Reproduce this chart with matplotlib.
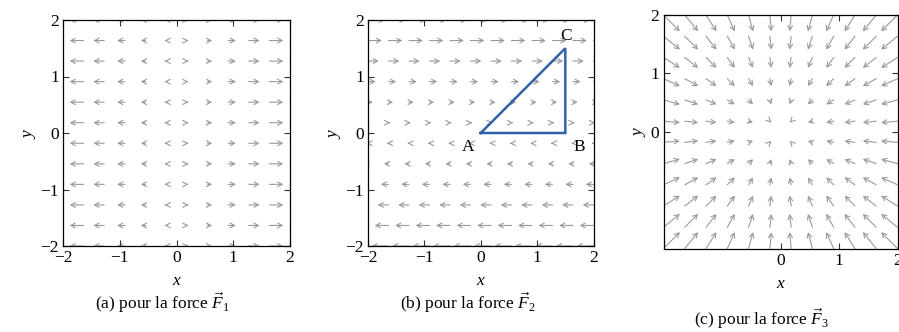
import numpy as np
import matplotlib
matplotlib.use("Agg")
import matplotlib.pyplot as plt
from matplotlib.patches import FancyArrowPatch

plt.rcParams["font.family"] = ["Liberation Serif", "DejaVu Serif"]
plt.rcParams["mathtext.fontset"] = "custom"
plt.rcParams["mathtext.rm"] = "Liberation Serif"
plt.rcParams["mathtext.it"] = "Liberation Serif:italic"
plt.rcParams["axes.unicode_minus"] = True

# Sampling grid for the force fields (12 x 12 points on [-2, 2])
grid = np.linspace(-2, 2, 12)

# Field definitions and drawing scale for each panel
def force_1(x, y):
    return x, 0 * y

def force_2(x, y):
    return y, 0 * x

def force_3(x, y):
    return -x, -y

scale_1 = 0.15
scale_2 = 0.15
scale_3 = 0.14

# Triangle path A -> B -> C -> A in panel (b)
tri_names = ["A", "B", "C"]
tri_x = [0.0, 1.5, 1.5]
tri_y = [0.0, 0.0, 1.5]

captions = [r"(a) pour la force $\vec{F}_1$",
            r"(b) pour la force $\vec{F}_2$",
            r"(c) pour la force $\vec{F}_3$"]

full_ticks = [-2, -1, 0, 1, 2]
pos_ticks = [0, 1, 2]

W, H = 899, 332
fig = plt.figure(figsize=(W / 100, H / 100), dpi=100)


def px_axes(left, top, right, bottom):
    return fig.add_axes([left / W, 1 - bottom / H, (right - left) / W, (bottom - top) / H])


ARROW_COLOR = "#9a9a9a"


def draw_field(ax, func, k):
    X, Y = np.meshgrid(grid, grid)
    U, V = func(X, Y)
    for x0, y0, u, v in zip(X.ravel(), Y.ravel(), U.ravel(), V.ravel()):
        arr = FancyArrowPatch((x0, y0), (x0 + k * u, y0 + k * v),
                              arrowstyle="->,head_length=0.32,head_width=0.17",
                              mutation_scale=10, shrinkA=0, shrinkB=0,
                              lw=0.8, color=ARROW_COLOR, zorder=1)
        ax.add_patch(arr)


def style_axes(ax, ticks):
    ax.set_xlim(-2, 2)
    ax.set_ylim(-2, 2)
    ax.set_xticks(ticks)
    ax.set_yticks(ticks)
    ax.tick_params(direction="in", length=4, width=0.8, top=True, right=True,
                   labelsize=12.5, pad=3, color="#333333")
    for s in ax.spines.values():
        s.set_linewidth(0.9)
        s.set_zorder(5)
    ax.set_xlabel(r"$x$", fontsize=12.5, labelpad=5)
    ax.set_ylabel(r"$y$", fontsize=12.5, labelpad=2)


ax1 = px_axes(63, 20, 290, 246)
ax2 = px_axes(368, 20, 593.5, 246)
ax3 = px_axes(663.5, 15, 897.5, 248.5)

draw_field(ax1, force_1, scale_1)
draw_field(ax2, force_2, scale_2)
draw_field(ax3, force_3, scale_3)

style_axes(ax1, full_ticks)
style_axes(ax2, full_ticks)
style_axes(ax3, pos_ticks)

# Triangle ABC
ax2.plot(tri_x + tri_x[:1], tri_y + tri_y[:1], color="#2f62a8", lw=1.8,
         zorder=3, solid_joinstyle="miter")
label_offsets = {"A": (-0.22, -0.25), "B": (0.24, -0.25), "C": (0.02, 0.22)}
for n, x, y in zip(tri_names, tri_x, tri_y):
    dx, dy = label_offsets[n]
    ax2.text(x + dx, y + dy, n, fontsize=12.5, ha="center", va="center", zorder=4)

# Sub-captions
fig.text(162 / W, 1 - 303 / H, captions[0], fontsize=12.5, ha="center", va="center")
fig.text(468 / W, 1 - 303 / H, captions[1], fontsize=12.5, ha="center", va="center")
fig.text(762 / W, 1 - 319 / H, captions[2], fontsize=12.5, ha="center", va="center")

fig.savefig("out.png", dpi=100)
